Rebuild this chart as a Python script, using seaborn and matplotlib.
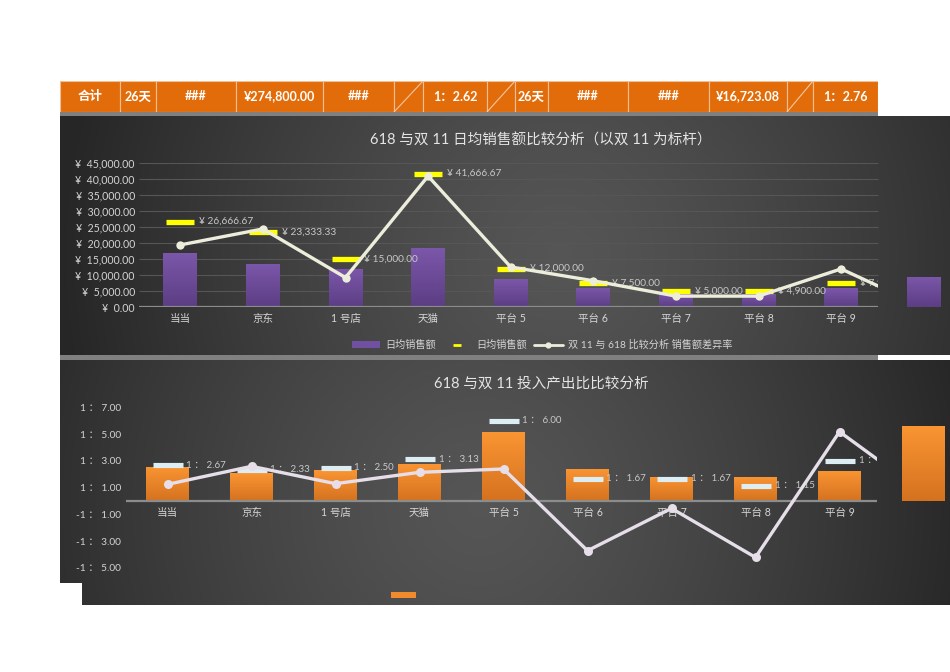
import numpy as np
import pandas as pd
import matplotlib
matplotlib.use("Agg")
import matplotlib.pyplot as plt
import seaborn as sns
from matplotlib.patches import Rectangle, Patch
from matplotlib.lines import Line2D
from matplotlib.colors import LinearSegmentedColormap

# ---------------- data ----------------
categories = ["当当", "京东", "1 号店", "天猫", "平台 5", "平台 6", "平台 7", "平台 8", "平台 9", "平台 10"]

# top chart: 618 daily sales (bars), Double-11 daily sales (yellow dashes), diff line
daily_sales_618 = [16900, 13500, 12000, 18500, 8800, 6000, 4300, 4200, 5800, 9500]
daily_sales_d11 = [26666.67, 23333.33, 15000.00, 41666.67, 12000.00, 7500.00, 5000.00, 4900.00, 7500.00]
sales_diff_line = [19400, 24400, 9200, 40900, 12500, 8200, 3400, 3400, 11900, 0]
top_yticks = [0, 5000, 10000, 15000, 20000, 25000, 30000, 35000, 40000, 45000]

# bottom chart: input-output ratios
roi_618 = [2.57, 2.07, 2.32, 2.80, 5.19, 2.40, 1.82, 1.80, 2.25, 5.62]
roi_d11 = [2.67, 2.33, 2.50, 3.13, 6.00, 1.67, 1.67, 1.15, 3.00]
roi_line = [1.25, 2.60, 1.30, 2.15, 2.40, -3.72, -0.55, -4.22, 5.19, 0.60]
bottom_yticks = [7, 5, 3, 1, -1, -3, -5]

# header row
header_texts = ["合计", "26天", "###", "¥274,800.00", "###", "", "1：2.62", "",
                "26天", "###", "###", "¥16,723.08", "", "1：2.76"]
header_diag = [False, False, False, False, False, True, False, True,
               False, False, False, False, True, False]

title_top = "618 与双 11 日均销售额比较分析（以双 11 为标杆）"
title_bottom = "618 与双 11 投入产出比比较分析"
legend_labels = ["日均销售额", "日均销售额", "双 11 与 618 比较分析 销售额差异率"]

# ---------------- layout / style ----------------
W, H = 950, 672
header_edges = [60, 120, 156, 236, 323, 394, 423, 487, 515, 548, 628, 709, 787, 813, 878]
ORANGE_HDR = "#E36C0A"
PURPLE = "#7050A0"
ORANGE = "#F08A2C"
YELLOW = "#FFFF00"
ICE = "#DCEEF4"
TXT = "#D4D4D4"

sns.set_theme(style="white")
plt.rcParams["font.family"] = ["Lato", "Noto Sans CJK SC", "DejaVu Sans"]
plt.rcParams["axes.unicode_minus"] = False

fig = plt.figure(figsize=(W / 100, H / 100), dpi=100, facecolor="white")


def fr(x0, y0, x1, y1):
    return [x0 / W, 1 - y1 / H, (x1 - x0) / W, (y1 - y0) / H]


def add_bg(x0, y0, x1, y1, cx, cy, R, c_in=0.335, c_out=0.15):
    ax = fig.add_axes(fr(x0, y0, x1, y1), zorder=-1)
    xs = np.arange(x0, x1) + 0.5
    ys = np.arange(y0, y1) + 0.5
    X, Y = np.meshgrid(xs, ys)
    d = np.clip(np.hypot(X - cx, Y - cy) / R, 0, 1)
    c = c_in + (c_out - c_in) * d ** 1.3
    ax.imshow(np.dstack([c, c, c]), extent=[0, 1, 0, 1], aspect="auto",
              interpolation="bilinear")
    ax.set_axis_off()
    return ax


def fig_rect(x0, y0, x1, y1, color, z=1):
    fig.add_artist(Rectangle((x0 / W, 1 - y1 / H), (x1 - x0) / W, (y1 - y0) / H,
                             transform=fig.transFigure, facecolor=color,
                             edgecolor="none", zorder=z))


def gradient_bars(ax, c_top, c_bot):
    cmap = LinearSegmentedColormap.from_list("g", [c_bot, c_top])
    grad = np.linspace(0, 1, 64).reshape(-1, 1)
    for p in list(ax.patches):
        p.set_edgecolor("none")
        p.set_linewidth(0)
        x0, y0, w, h = p.get_x(), p.get_y(), p.get_width(), p.get_height()
        im = ax.imshow(grad, extent=[x0, x0 + w, y0, y0 + h], origin="lower",
                       cmap=cmap, aspect="auto", zorder=p.get_zorder() + 0.1,
                       interpolation="bilinear")
        im.set_clip_path(p)
        p.set_clip_on(False)


# backgrounds
add_bg(60, 116, 950, 355, 560, 255, 500)
add_bg(60, 360, 950, 605, 480, 505, 500)
fig_rect(60, 112, 878, 116, "#808080")
fig_rect(60, 355, 878, 360, "#808080")
fig_rect(60, 583, 82, 606, "white")
fig_rect(391, 592, 416, 598, ORANGE)

# ---------------- header row ----------------
axh = fig.add_axes(fr(60, 81, 878, 112))
axh.set_xlim(60, 878)
axh.set_ylim(112, 81)
axh.set_axis_off()
for i, txt in enumerate(header_texts):
    x0, x1 = header_edges[i], header_edges[i + 1]
    axh.add_patch(Rectangle((x0, 81), x1 - x0, 31, facecolor=ORANGE_HDR,
                            edgecolor="#F2BE93", lw=0.8))
    if header_diag[i]:
        axh.plot([x0, x1], [112, 81], color="#F2C7A4", lw=0.8)
    if txt:
        axh.text((x0 + x1) / 2, 96.5, txt, ha="center", va="center",
                 color="white", fontsize=9, fontweight="bold")

# ---------------- top chart ----------------
ax1 = fig.add_axes(fr(139, 163, 139 + 826, 307), zorder=2)
ax1.patch.set_alpha(0)
df1 = pd.DataFrame({"platform": categories, "sales": daily_sales_618})
sns.barplot(data=df1, x="platform", y="sales", order=categories, ax=ax1,
            color=PURPLE, width=0.41, saturation=1, linewidth=0, edgecolor="none")
gradient_bars(ax1, "#7C57AA", "#5C3E84")
ax1.set_xlim(-0.5, 9.5)
ax1.set_ylim(0, 45000)
for s in ax1.spines.values():
    s.set_visible(False)
ax1.hlines(top_yticks[1:], -0.5, 8.45, color="#565656", lw=0.8, zorder=0.5)
ax1.hlines(0, -0.5, 8.45, color="#8C8C8C", lw=1.6, zorder=3)
clip1 = Rectangle((-0.5, -1e5), 8.95, 3e5, transform=ax1.transData)

ax1.plot(range(len(daily_sales_d11)), daily_sales_d11, ls="none", marker="_",
         ms=20.5, mew=3.8, color=YELLOW, zorder=4)
for i, v in enumerate(daily_sales_d11):
    t = ax1.annotate(f"¥ {v:,.2f}", (i, v), xytext=(19, 0),
                     textcoords="offset pixels", ha="left", va="center",
                     fontsize=7.3, color="#C8C8C8", zorder=5)
    t.set_clip_path(clip1)

sns.lineplot(x=list(range(len(sales_diff_line))), y=sales_diff_line, ax=ax1,
             color="#EDEDDC", lw=2.4, marker="o", ms=6, mew=0, legend=False,
             zorder=6)
ax1.lines[-1].set_clip_path(clip1)

ax1.set_xticks(range(9))
ax1.set_xticklabels(categories[:9])
ax1.set_yticks(top_yticks)
ax1.set_yticklabels([f"¥  {v:,.2f}" for v in top_yticks])
ax1.tick_params(axis="both", length=0, labelsize=7.6, labelcolor=TXT)
ax1.tick_params(axis="x", pad=4, labelsize=7.6)
ax1.tick_params(axis="y", pad=3)
ax1.set_xlabel("")
ax1.set_ylabel("")

fig.text(541 / W, 1 - 140 / H, title_top, ha="center", va="center",
         fontsize=10.5, color="#E4E4E4")

handles = [Patch(facecolor=PURPLE, edgecolor="none"),
           Line2D([], [], ls="none", marker="_", ms=6, mew=2, color=YELLOW),
           Line2D([], [], color="#EDEDDC", lw=2, marker="o", ms=4.5, mew=0)]
fig.legend(handles, legend_labels, loc="center", bbox_to_anchor=(542 / W, 1 - 345 / H),
           ncol=3, frameon=False, fontsize=7.3, labelcolor=TXT, handlelength=2.8,
           handleheight=0.55, columnspacing=0.7, handletextpad=0.5)

# ---------------- bottom chart ----------------
ax2 = fig.add_axes(fr(125.5, 394.2, 125.5 + 840, 594.5), zorder=2)
ax2.patch.set_alpha(0)
df2 = pd.DataFrame({"platform": categories, "roi": roi_618})
sns.barplot(data=df2, x="platform", y="roi", order=categories, ax=ax2,
            color=ORANGE, width=0.51, saturation=1, linewidth=0, edgecolor="none")
gradient_bars(ax2, "#FA9533", "#D5721F")
ax2.set_xlim(-0.5, 9.5)
ax2.set_ylim(-7, 8)
for s in ax2.spines.values():
    s.set_visible(False)
ax2.hlines(0, -0.5, 8.45, color="#8C8C8C", lw=1.6, zorder=3)
clip2 = Rectangle((-0.5, -100), 8.95, 200, transform=ax2.transData)

ax2.plot(range(len(roi_d11)), roi_d11, ls="none", marker="_",
         ms=21, mew=3.7, color=ICE, zorder=4)
for i, v in enumerate(roi_d11):
    t = ax2.annotate(f"1 ： {v:.2f}", (i, v), xytext=(19, 0),
                     textcoords="offset pixels", ha="left", va="center",
                     fontsize=7, color="#C8C8C8", zorder=5)
    t.set_clip_path(clip2)

sns.lineplot(x=list(range(len(roi_line))), y=roi_line, ax=ax2,
             color="#E6DEE8", lw=2.4, marker="o", ms=6.5, mew=0, legend=False,
             zorder=6)
ax2.lines[-1].set_clip_path(clip2)

for i, c in enumerate(categories[:9]):
    ax2.annotate(c, (i, 0), xytext=(0, -11), textcoords="offset pixels",
                 ha="center", va="center", fontsize=7.6, color=TXT, zorder=5)

ax2.set_xticks([])
ax2.set_yticks(bottom_yticks)
ax2.set_yticklabels([f"{'1' if v > 0 else '-1'} ： {abs(v):.2f}" for v in bottom_yticks])
ax2.tick_params(axis="y", length=0, labelsize=7.3, labelcolor=TXT, pad=3)
ax2.set_xlabel("")
ax2.set_ylabel("")

fig.text(541 / W, 1 - 384 / H, title_bottom, ha="center", va="center",
         fontsize=10.5, color="#E4E4E4")

fig.savefig("out.png", dpi=100, facecolor="white")
